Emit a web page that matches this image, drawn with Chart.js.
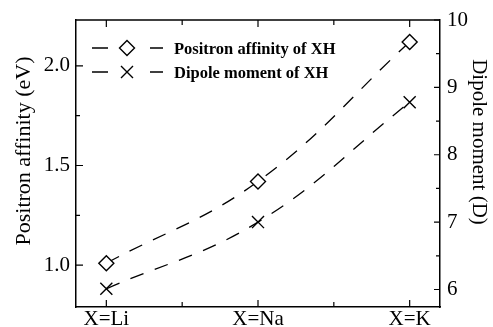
<!DOCTYPE html>
<html>
<head>
<meta charset="utf-8">
<script src="https://cdn.jsdelivr.net/npm/chart.js@4"></script>
<style>
  html, body { margin: 0; padding: 0; background: #fff; }
</style>
</head>
<body>
<canvas id="chart" width="493" height="327"></canvas>
<script>
const CATEGORIES = ["X=Li", "X=Na", "X=K"];
const POSITRON_AFFINITY = [1.01, 1.42, 2.12];
const DIPOLE_MOMENT = [6.01, 7.0, 8.78];
const X_TICKS = [0, 0.5, 1, 1.5, 2];
const LEFT_TICKS = [1.0, 1.25, 1.5, 1.75, 2.0];
const RIGHT_TICKS = [6, 6.5, 7, 7.5, 8, 8.5, 9, 9.5, 10];
const SERIES_LABELS = ["Positron affinity of XH", "Dipole moment of XH"];
const LEFT_TITLE = "Positron affinity (eV)";
const RIGHT_TITLE = "Dipole moment (D)";

const SERIF = "'Liberation Serif', 'DejaVu Serif', serif";
const TICK_FONT = { family: SERIF, size: 21 };

function setTicks(values) {
  return (scale) => {
    scale.ticks = values.map((v) => ({ value: v }));
  };
}

function drawDiamond(ctx, x, y, r) {
  ctx.beginPath();
  ctx.moveTo(x - r, y);
  ctx.lineTo(x, y - r);
  ctx.lineTo(x + r, y);
  ctx.lineTo(x, y + r);
  ctx.closePath();
  ctx.fillStyle = "#fff";
  ctx.fill();
  ctx.stroke();
}

function drawCross(ctx, x, y, h) {
  ctx.beginPath();
  ctx.moveTo(x - h, y - h);
  ctx.lineTo(x + h, y + h);
  ctx.moveTo(x - h, y + h);
  ctx.lineTo(x + h, y - h);
  ctx.stroke();
}

// inward ticks, top border, legend and axis titles
const framePlugin = {
  id: "frame",
  afterDraw(chart) {
    const { ctx, chartArea: a, scales } = chart;
    ctx.save();
    ctx.strokeStyle = "#000";
    ctx.lineWidth = 1.5;
    ctx.setLineDash([]);

    ctx.beginPath();
    ctx.moveTo(a.left, a.top);
    ctx.lineTo(a.right, a.top);
    ctx.stroke();

    ctx.lineWidth = 1.2;
    ctx.beginPath();
    scales.x.ticks.forEach((t) => {
      const px = scales.x.getPixelForValue(t.value);
      const len = Number.isInteger(t.value) ? 7 : 5;
      ctx.moveTo(px, a.bottom);
      ctx.lineTo(px, a.bottom - len);
      ctx.moveTo(px, a.top);
      ctx.lineTo(px, a.top + len);
    });
    scales.y.ticks.forEach((t) => {
      const py = scales.y.getPixelForValue(t.value);
      const len = (t.value * 2) % 1 === 0 ? 7 : 4;
      ctx.moveTo(a.left, py);
      ctx.lineTo(a.left + len, py);
    });
    scales.y1.ticks.forEach((t) => {
      const py = scales.y1.getPixelForValue(t.value);
      const len = Number.isInteger(t.value) ? 6 : 4;
      ctx.moveTo(a.right, py);
      ctx.lineTo(a.right - len, py);
    });
    ctx.stroke();

    // legend
    const rows = [48, 72];
    ctx.lineWidth = 1.3;
    rows.forEach((ry, i) => {
      ctx.beginPath();
      ctx.moveTo(92, ry);
      ctx.lineTo(108, ry);
      ctx.moveTo(150, ry);
      ctx.lineTo(163, ry);
      ctx.stroke();
      ctx.lineWidth = 1.4;
      if (i === 0) drawDiamond(ctx, 127, ry, 7.5);
      else drawCross(ctx, 127, ry, 6);
      ctx.lineWidth = 1.3;
      ctx.fillStyle = "#000";
      ctx.font = "bold 16.5px " + SERIF;
      ctx.textAlign = "left";
      ctx.textBaseline = "alphabetic";
      ctx.fillText(SERIES_LABELS[i], 174, ry + 6);
    });

    // axis titles
    ctx.fillStyle = "#000";
    ctx.textAlign = "center";
    ctx.textBaseline = "alphabetic";
    ctx.font = "22px " + SERIF;
    ctx.save();
    ctx.translate(30, 151);
    ctx.rotate(-Math.PI / 2);
    ctx.fillText(LEFT_TITLE, 0, 0);
    ctx.restore();

    ctx.font = "21px " + SERIF;
    ctx.save();
    ctx.translate(473, 142);
    ctx.rotate(Math.PI / 2);
    ctx.fillText(RIGHT_TITLE, 0, 0);
    ctx.restore();

    ctx.restore();
  },
};

function build() {
  new Chart(document.getElementById("chart"), {
    type: "line",
    data: {
      datasets: [
        {
          label: SERIES_LABELS[0],
          data: POSITRON_AFFINITY.map((y, i) => ({ x: i, y })),
          yAxisID: "y",
          borderColor: "#000",
          borderWidth: 1.3,
          borderDash: [14, 12],
          tension: 0.4,
          fill: false,
          pointStyle: "rectRot",
          pointRadius: 7.5,
          pointBackgroundColor: "#fff",
          pointBorderColor: "#000",
          pointBorderWidth: 1.4,
        },
        {
          label: SERIES_LABELS[1],
          data: DIPOLE_MOMENT.map((y, i) => ({ x: i, y })),
          yAxisID: "y1",
          borderColor: "#000",
          borderWidth: 1.3,
          borderDash: [14, 12],
          tension: 0.4,
          fill: false,
          pointStyle: "crossRot",
          pointRadius: 8.5,
          pointBorderColor: "#000",
          pointBorderWidth: 1.4,
        },
      ],
    },
    options: {
      responsive: false,
      animation: false,
      devicePixelRatio: 1,
      layout: { padding: { top: 20 } },
      plugins: { legend: { display: false }, tooltip: { enabled: false } },
      scales: {
        x: {
          type: "linear",
          min: -0.2,
          max: 2.2,
          afterBuildTicks: setTicks(X_TICKS),
          afterFit: (s) => { s.height = 20; },
          grid: { display: false, drawTicks: false },
          border: { color: "#000", width: 1.5 },
          ticks: {
            color: "#000",
            font: TICK_FONT,
            padding: 0,
            maxRotation: 0,
            autoSkip: false,
            callback: (v) => (Number.isInteger(v) ? CATEGORIES[v] : ""),
          },
        },
        y: {
          position: "left",
          min: 0.79,
          max: 2.23,
          afterBuildTicks: setTicks(LEFT_TICKS),
          afterFit: (s) => { s.width = 76; },
          grid: { display: false, drawTicks: false },
          border: { color: "#000", width: 1.5 },
          ticks: {
            color: "#000",
            font: TICK_FONT,
            padding: 6,
            autoSkip: false,
            callback: (v) => ((v * 2) % 1 === 0 ? v.toFixed(1) : ""),
          },
        },
        y1: {
          position: "right",
          min: 5.74,
          max: 10,
          afterBuildTicks: setTicks(RIGHT_TICKS),
          afterFit: (s) => { s.width = 53; },
          grid: { display: false, drawTicks: false },
          border: { color: "#000", width: 1.5 },
          ticks: {
            color: "#000",
            font: TICK_FONT,
            padding: 7,
            autoSkip: false,
            callback: (v) => (Number.isInteger(v) ? String(v) : ""),
          },
        },
      },
    },
    plugins: [framePlugin],
  });
}

Promise.all([
  document.fonts.load("21px 'Liberation Serif'"),
  document.fonts.load("bold 16.5px 'Liberation Serif'"),
]).then(build, build);
</script>
</body>
</html>
